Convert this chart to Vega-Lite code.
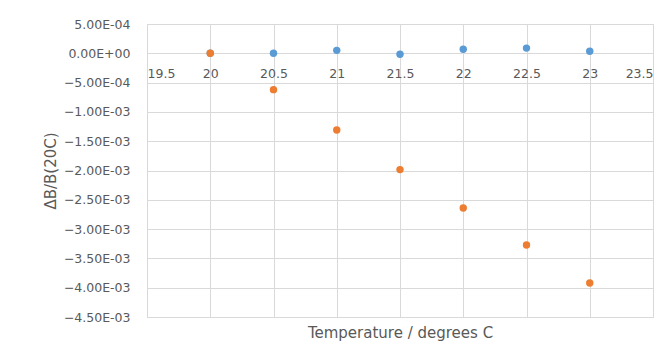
{
  "$schema": "https://vega.github.io/schema/vega-lite/v6.json",
  "autosize": "none",
  "width": 506,
  "height": 293,
  "padding": {"left": 147, "top": 24, "right": 19, "bottom": 26},
  "background": "white",
  "data": {
    "values": [
      {"t": 20, "v": 0, "s": "A"},
      {"t": 20.5, "v": 0.0, "s": "A"},
      {"t": 21, "v": 0.00005, "s": "A"},
      {"t": 21.5, "v": -0.000017, "s": "A"},
      {"t": 22, "v": 0.000068, "s": "A"},
      {"t": 22.5, "v": 0.000089, "s": "A"},
      {"t": 23, "v": 0.000034, "s": "A"},
      {"t": 20, "v": 0, "s": "B"},
      {"t": 20.5, "v": -0.00062, "s": "B"},
      {"t": 21, "v": -0.00131, "s": "B"},
      {"t": 21.5, "v": -0.001985, "s": "B"},
      {"t": 22, "v": -0.00264, "s": "B"},
      {"t": 22.5, "v": -0.00327, "s": "B"},
      {"t": 23, "v": -0.00392, "s": "B"}
    ]
  },
  "mark": {"type": "circle", "size": 55, "opacity": 1},
  "encoding": {
    "x": {
      "field": "t", "type": "quantitative",
      "scale": {"domain": [19.5, 23.5], "nice": false, "zero": false},
      "axis": {
        "values": [19.5, 20, 20.5, 21, 21.5, 22, 22.5, 23, 23.5],
        "format": "~g",
        "offset": -264,
        "domain": true, "domainColor": "#d9d9d9",
        "ticks": false,
        "labelPadding": 14,
        "labelFont": "DejaVu Sans", "labelFontSize": 12.5, "labelColor": "#595959",
        "grid": true, "gridColor": "#d9d9d9",
        "title": "Temperature / degrees C",
        "titleFont": "DejaVu Sans", "titleFontSize": 15, "titleFontWeight": "normal", "titleColor": "#595959",
        "titleY": 272
      }
    },
    "y": {
      "field": "v", "type": "quantitative",
      "scale": {"domain": [-0.0045, 0.0005], "nice": false, "zero": false},
      "axis": {
        "values": [0.0005, 0, -0.0005, -0.001, -0.0015, -0.002, -0.0025, -0.003, -0.0035, -0.004, -0.0045],
        "labelExpr": "replace(replace(format(datum.value, '.2e'), 'e-', 'E-0'), 'e+', 'E+0')",
        "domain": true, "domainColor": "#d9d9d9",
        "ticks": false,
        "labelPadding": 17,
        "labelFont": "DejaVu Sans", "labelFontSize": 12.5, "labelColor": "#595959",
        "grid": true, "gridColor": "#d9d9d9",
        "title": "ΔB/B(20C)",
        "titleFont": "DejaVu Sans", "titleFontSize": 15, "titleFontWeight": "normal", "titleColor": "#595959",
        "titlePadding": 5
      }
    },
    "color": {
      "field": "s", "type": "nominal",
      "scale": {"domain": ["A", "B"], "range": ["#5b9bd5", "#ed7d31"]},
      "legend": null
    }
  },
  "config": {"view": {"stroke": "#d9d9d9"}}
}
